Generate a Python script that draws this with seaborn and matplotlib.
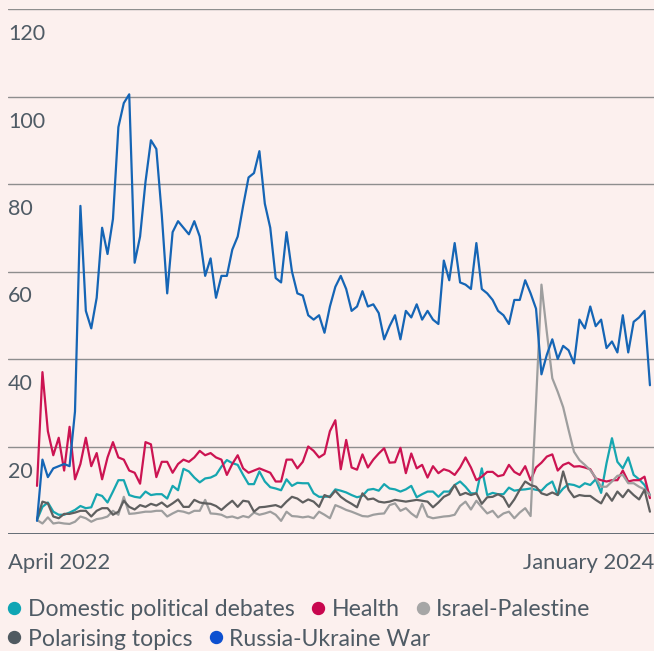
import numpy as np
import pandas as pd
import seaborn as sns
import matplotlib.pyplot as plt
from matplotlib.lines import Line2D
from matplotlib.transforms import ScaledTranslation

# weekly mentions
topics = ['Domestic political debates', 'Health', 'Israel-Palestine',
          'Polarising topics', 'Russia-Ukraine War']

domestic = [3.2, 6.2, 7.2, 5.1, 4.4, 4.4, 4.9, 5.5, 6.4, 5.9,
            6.1, 9.1, 8.7, 7.2, 9.7, 12.3, 12.3, 8.9, 8.5, 8.3,
            9.7, 8.9, 9.1, 9.1, 8.1, 11, 10, 14.9, 14.3, 12.9,
            11.8, 12.7, 12.9, 13.5, 15.4, 16.9, 16.2, 15.8, 13.5, 11.4,
            11.4, 14.3, 12, 10.7, 10.4, 10, 12.5, 11, 11.7, 11.6,
            11.6, 9.3, 8.5, 8.5, 8.6, 10.2, 9.9, 9.5, 8.9, 8.4,
            8.7, 10.1, 10.3, 9.9, 11.4, 10.4, 10.2, 9.7, 10.2, 11,
            8.4, 9.1, 9.7, 9.7, 8.5, 9.7, 9.7, 11.2, 12, 10.8,
            9.3, 9.3, 15, 8.9, 9.4, 9.1, 9.1, 10.6, 9.9, 10.1,
            10.2, 10.4, 10.1, 9.9, 11.2, 12, 8.9, 10.4, 11.4, 11.2,
            10.7, 11.6, 11.2, 12.5, 9.4, 16.2, 21.9, 16.5, 15, 17.5,
            13.5, 12.5, 11.2, 8.9]

health = [11, 37, 23.5, 18, 22, 14.5, 24.5, 12.5, 16, 22,
          15.5, 18.5, 12.5, 17.5, 21, 17.5, 17, 14.5, 14, 11.5,
          21, 20.5, 13, 16.5, 16.5, 14, 16, 17, 16.5, 17.5,
          19, 18, 18.5, 17.5, 17, 13.5, 16, 18, 15, 14,
          14.5, 15, 14.5, 14, 12, 12, 17, 17, 15, 16.5,
          20, 19, 17.5, 18.3, 23.5, 26, 14.8, 21.5, 15.2, 14.7,
          18.2, 15.2, 17, 18.4, 19.6, 16.3, 16.4, 19.7, 13.9, 18.4,
          15, 15.8, 12.9, 15.5, 13.9, 14.8, 14.4, 13.5, 15.2, 17.5,
          15.2, 12.3, 13.1, 14.2, 14.2, 13.2, 13.5, 15.8, 14.2, 13.5,
          15.5, 12.3, 15.2, 16.3, 17.7, 18.2, 14.5, 15.8, 16.3, 15.4,
          15.5, 15.2, 14.8, 12.7, 12.3, 12, 12.3, 12.3, 14.5, 12,
          12.3, 12.3, 13.1, 8.2]

israel = [3.2, 2.4, 3.8, 2.4, 2.6, 2.4, 2.3, 2.8, 4, 3.6,
          2.8, 3.4, 3.6, 4, 5.3, 4.4, 8.5, 4.6, 4.7, 4.9,
          5.1, 5.1, 5.3, 5.3, 4, 4.7, 5.3, 5.1, 4.7, 5.3,
          5.3, 7.8, 4.7, 4.6, 4.4, 3.8, 4, 3.6, 4.1, 3.8,
          4.9, 4.4, 4.7, 5.1, 4.4, 3, 5.1, 4.1, 4, 3.8,
          4, 3.6, 5.1, 4.4, 3.6, 6.6, 6.1, 5.5, 5.1, 4.6,
          4.1, 4, 4.4, 4.6, 4.7, 6.6, 7, 5.3, 5.9, 4.7,
          3.8, 6.9, 4, 3.6, 3.8, 4, 4.1, 4.4, 6.4, 7.4,
          5.6, 7.6, 6.1, 4.7, 5.3, 3.8, 4.7, 5.1, 3.6, 4.9,
          5.9, 4.1, 30, 57, 46, 35.6, 32.5, 29, 23.8, 18.8,
          16.9, 15.8, 14.6, 12.9, 10.8, 10.8, 12, 13.3, 13.5, 11.6,
          11.6, 10.8, 10.2, 8.9]

polarising = [3.4, 7.4, 7, 4, 3.6, 4.6, 4.6, 4.9, 5.3, 5.3,
              4, 5.3, 5.9, 5.9, 4.4, 5.1, 7.6, 6.2, 5.6, 6.6,
              6.2, 6.9, 6.5, 7.2, 6.2, 7, 7.9, 6.2, 6.2, 7.8,
              7.2, 7, 6.9, 6.4, 5.5, 6.6, 7.6, 6.2, 7.6, 7.4,
              5.1, 6.1, 6.2, 6.4, 6.6, 6.1, 7.4, 8.5, 8.1, 7.2,
              7.9, 7.4, 6.2, 8.9, 8.4, 9.9, 8.5, 7.6, 6.9, 6.1,
              9.3, 7.9, 8.1, 7.4, 7.2, 7.4, 7.8, 7.6, 7.4, 7.6,
              7.8, 7.6, 7.4, 6.1, 7.2, 8.5, 9.1, 11.2, 8.9, 9.4,
              8.9, 9.3, 6.9, 8.4, 8.5, 9.1, 8.4, 6.2, 7.9, 10.1,
              12, 11.2, 10.8, 9.3, 8.9, 9.5, 8.9, 14.3, 10.1, 8.4,
              8.9, 8.7, 8.7, 7.8, 7, 9.3, 7.6, 9.7, 8.4, 10.1,
              8.9, 7.9, 10.1, 5.1]

russia = [3, 17, 13, 15, 15.5, 16, 15.5, 28, 75, 51,
          47, 54, 70, 64, 72, 93, 98.5, 100.5, 62, 68,
          80.5, 90, 88, 73, 55, 69, 71.5, 70, 68.5, 71.5,
          68, 59, 63, 54, 59, 59, 65, 68, 75, 81.5,
          82.5, 87.5, 75.5, 70, 58.5, 57.5, 69, 60, 55, 54.5,
          50, 49, 50, 46, 52, 56.5, 59, 56, 51, 52,
          55.5, 52, 52.5, 50.5, 44.5, 47.5, 50, 44.5, 51, 49.5,
          52.5, 49, 51, 49, 48, 62.5, 58, 66.5, 57.5, 57,
          56, 66.5, 56, 55, 53.5, 51, 50, 48, 53.5, 53.5,
          58, 55, 51.5, 36.5, 41, 44.5, 40, 43, 42, 39,
          49, 47, 52, 47.5, 49, 42.5, 44, 41.5, 50, 41.5,
          48.5, 49.5, 51, 34]

weeks = np.arange(len(russia))
yticks = [0, 20, 40, 60, 80, 100, 120]
ylabels = ['', '20', '40', '60', '80', '100', '120']
xlabels = ['April 2022', 'January 2024']

line_colors = ['#16a6b0', '#cc1452', '#9e9e9e', '#5f5f5f', '#1565b5']
dot_colors = ['#0fa5b4', '#c8064e', '#a6a6a6', '#505a61', '#0d50d0']
bg = '#fcf0ee'
text_c = '#4f5b65'

df = pd.DataFrame({
    'week': np.tile(weeks, len(topics)),
    'topic': np.repeat(topics, len(weeks)),
    'value': np.concatenate([domestic, health, israel, polarising, russia]),
})

sns.set_style('white', {'axes.facecolor': bg, 'figure.facecolor': bg})
plt.rcParams['font.family'] = ['Lato', 'DejaVu Sans']

fig = plt.figure(figsize=(6.54, 6.51), dpi=100)
ax = fig.add_axes([8 / 654, 1 - 534 / 651, 646 / 654, 525 / 651])

sns.lineplot(data=df, x='week', y='value', hue='topic', hue_order=topics,
             palette=line_colors, linewidth=1.6, legend=False, ax=ax)

xmin, xmax = -5.35, 113.75
ax.set_xlim(xmin, xmax)
ax.set_ylim(0, 120)
ax.set_xlabel('')
ax.set_ylabel('')
for s in ax.spines.values():
    s.set_visible(False)

ax.grid(axis='y', color='#8e8e8e', lw=1)
ax.grid(axis='x', visible=False)
ax.axhline(0, color=text_c, lw=1.2)

ax.set_yticks(yticks)
ax.set_yticklabels(ylabels)
ax.tick_params(axis='y', length=0, pad=0, labelsize=15.5, labelcolor=text_c)
off = ScaledTranslation(0, -0.23, fig.dpi_scale_trans)
for lab in ax.get_yticklabels():
    lab.set_ha('left')
    lab.set_transform(lab.get_transform() + off)

ax.set_xticks([xmin, xmax])
ax.set_xticklabels(xlabels)
ax.tick_params(axis='x', length=0, pad=14, labelsize=15.8, labelcolor=text_c)
xl = ax.get_xticklabels()
xl[0].set_ha('left')
xl[1].set_ha('right')

handles = [Line2D([], [], ls='', marker='o', ms=8.6, mfc=c, mec=c) for c in dot_colors]
kw = dict(loc='center left', frameon=False, fontsize=16.6, handlelength=0.6,
          handletextpad=0.28, columnspacing=0.72, borderpad=0, borderaxespad=0,
          labelcolor=text_c)
fig.legend(handles[:3], topics[:3], ncol=3, bbox_to_anchor=(7.5 / 654, 1 - 610 / 651), **kw)
fig.legend(handles[3:], topics[3:], ncol=2, bbox_to_anchor=(7.5 / 654, 1 - 639 / 651), **kw)

fig.savefig('out.png', dpi=100, facecolor=bg)
